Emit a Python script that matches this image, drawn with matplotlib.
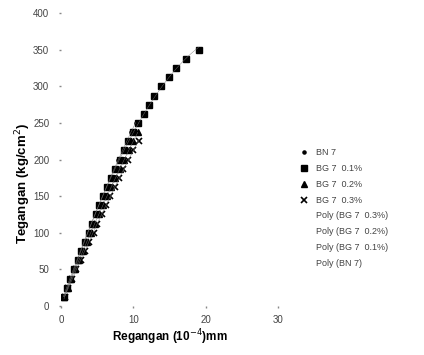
import matplotlib
matplotlib.use("Agg")
import matplotlib.pyplot as plt
import numpy as np

plt.rcParams['font.family'] = ['Liberation Sans', 'DejaVu Sans']

# tegangan (kg/cm2) vs regangan (10^-4 mm)
stress_01 = [12.5, 25, 37.5, 50, 62.5, 75, 87.5, 100, 112.5, 125, 137.5, 150, 162.5, 175,
             187.5, 200, 212.5, 225, 237.5, 250, 262.5, 275, 287.5, 300, 312.5, 325, 337.5, 350]
strain_01 = [0.4, 0.8, 1.3, 1.8, 2.3, 2.8, 3.3, 3.8, 4.3, 4.8, 5.3, 5.8, 6.3, 6.9,
             7.5, 8.1, 8.7, 9.3, 9.9, 10.6, 11.4, 12.2, 12.9, 13.8, 14.9, 15.9, 17.3, 19.0]

stress_bn = [12.5, 25, 37.5, 50, 62.5, 75, 87.5, 100, 112.5, 125, 137.5, 150, 162.5, 175,
             187.5, 200, 212.5, 225, 237.5, 250]
strain_bn = [0.3, 0.7, 1.2, 1.7, 2.2, 2.7, 3.2, 3.7, 4.2, 4.7, 5.2, 5.7, 6.2, 6.7,
             7.3, 7.9, 8.5, 9.1, 9.7, 10.3]

stress_02 = [12.5, 25, 37.5, 50, 62.5, 75, 87.5, 100, 112.5, 125, 137.5, 150, 162.5, 175,
             187.5, 200, 212.5, 225, 237.5]
strain_02 = [0.4, 0.9, 1.4, 1.9, 2.5, 3.0, 3.6, 4.1, 4.7, 5.2, 5.8, 6.3, 6.9, 7.5,
             8.1, 8.7, 9.4, 10.0, 10.6]

stress_03 = [12.5, 25, 37.5, 50, 62.5, 75, 87.5, 100, 112.5, 125, 137.5, 150, 162.5, 175,
             187.5, 200, 212.5, 225]
strain_03 = [0.5, 1.0, 1.5, 2.1, 2.7, 3.3, 3.9, 4.5, 5.0, 5.6, 6.2, 6.8, 7.4, 8.0,
             8.6, 9.3, 10.0, 10.8]

fig = plt.figure(figsize=(4.24, 3.55), dpi=100)
ax = fig.add_axes([0.144, 0.138, 0.512, 0.825])

p_bn, = ax.plot(strain_bn, stress_bn, 'k.', ms=4.5, label='BN 7')
p_01, = ax.plot(strain_01, stress_01, 'ks', ms=4, label='BG 7  0.1%')
p_02, = ax.plot(strain_02, stress_02, 'k^', ms=4.5, label='BG 7  0.2%')
p_03, = ax.plot(strain_03, stress_03, 'kx', ms=4, mew=1.2, label='BG 7  0.3%')

def poly(x, y, lab):
    c = np.polyfit(x, y, 2)
    xx = np.linspace(min(x), max(x), 50)
    l, = ax.plot(xx, np.polyval(c, xx), color='#777777', lw=0.3, label=lab)
    return l

l_03 = poly(strain_03, stress_03, 'Poly (BG 7  0.3%)')
l_02 = poly(strain_02, stress_02, 'Poly (BG 7  0.2%)')
l_01 = poly(strain_01, stress_01, 'Poly (BG 7  0.1%)')
l_bn = poly(strain_bn, stress_bn, 'Poly (BN 7)')

ax.set_xlim(0, 30)
ax.set_ylim(0, 400)
ax.set_xticks([0, 10, 20, 30])
ax.set_yticks(np.arange(0, 401, 50))
for s in ax.spines.values():
    s.set_visible(False)
ax.tick_params(length=1.5, width=1, color='#888888', labelsize=7, labelcolor='#444444', pad=7)
ax.tick_params(axis='x', pad=5)

ax.set_xlabel('Regangan (10$^{-4}$)mm', fontsize=8.5, fontweight='bold', labelpad=2)
ax.set_ylabel('Tegangan (kg/cm$^{2}$)', fontsize=9.5, fontweight='bold')
ax.yaxis.set_label_coords(-0.13, 0.42)

leg = fig.legend(handles=[p_bn, p_01, p_02, p_03, l_03, l_02, l_01, l_bn],
                 loc='upper left', bbox_to_anchor=(0.687, 0.605), frameon=False,
                 fontsize=6.5, labelspacing=0.75, handlelength=1.0, handletextpad=0.8)
for t in leg.get_texts():
    t.set_color('#444444')
for h in leg.legend_handles[4:]:
    h.set_visible(False)

fig.savefig('out.png', dpi=100)
